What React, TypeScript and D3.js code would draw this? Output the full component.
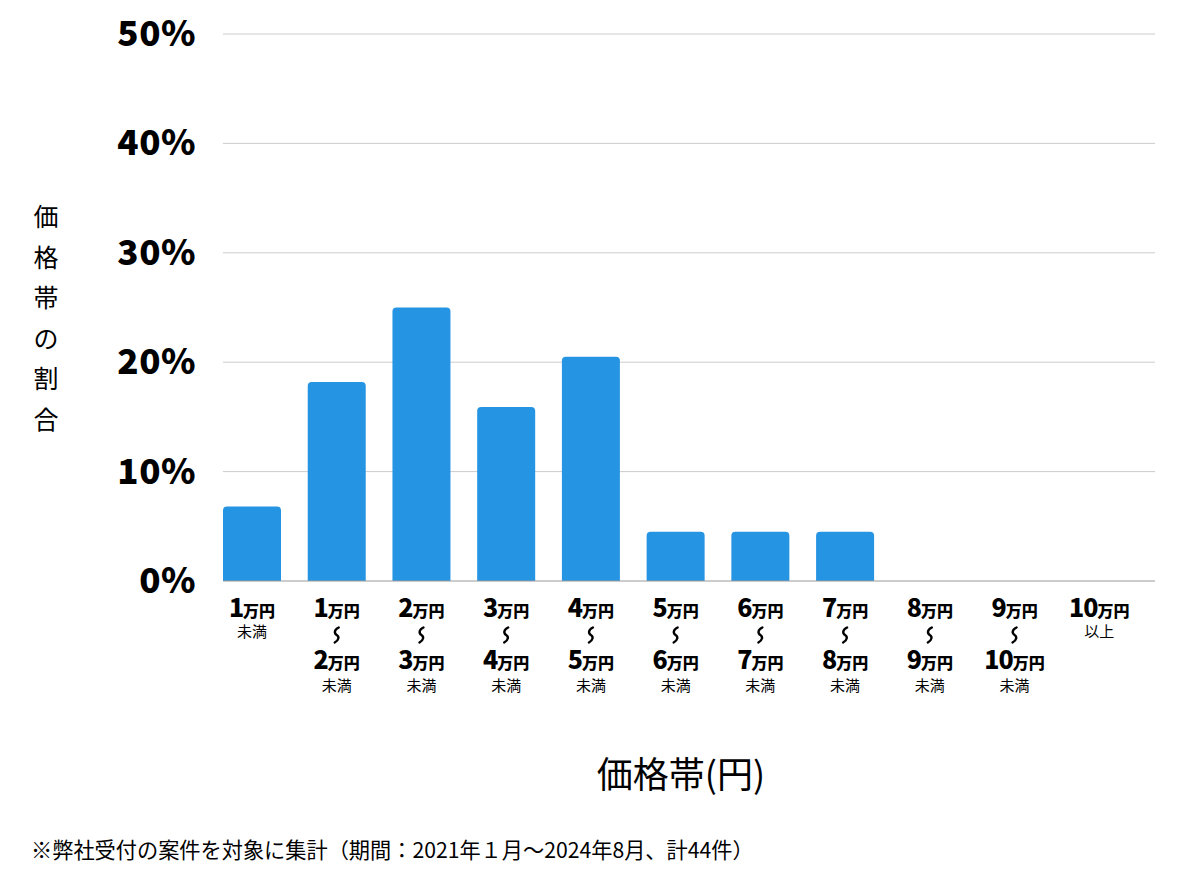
import React from "react";
import * as d3 from "d3";

const categories = ["1-", "1-2", "2-3", "3-4", "4-5", "5-6", "6-7", "7-8", "8-9", "9-10", "10+"];
const values = [6.8, 18.2, 25.0, 15.9, 20.5, 4.5, 4.5, 4.5, 0, 0, 0];
const lowLabels = ["1", "1", "2", "3", "4", "5", "6", "7", "8", "9", "10"];
const highLabels = ["", "2", "3", "4", "5", "6", "7", "8", "9", "10", ""];
const suffixLabels = ["未満", "未満", "未満", "未満", "未満", "未満", "未満", "未満", "未満", "未満", "以上"];
const yTicks = [0, 10, 20, 30, 40, 50];

const W = 1200, H = 874;
const left = 223, right = 1155, top = 34, bottom = 581;
const FONT = "'Noto Sans CJK JP', 'Noto Sans', sans-serif";

function roundedTopBar(x: number, y: number, w: number, h: number, r: number) {
  if (h <= 0) return "";
  const rr = Math.min(r, h, w / 2);
  return `M${x},${y + h}V${y + rr}Q${x},${y} ${x + rr},${y}H${x + w - rr}Q${x + w},${y} ${x + w},${y + rr}V${y + h}Z`;
}

function Amount({ x, y, num }: { x: number; y: number; num: string }) {
  return (
    <text x={x} y={y} textAnchor="middle" fontFamily={FONT} fontWeight={900} fill="#000">
      <tspan fontSize={25} letterSpacing={-1}>{num}</tspan>
      <tspan fontSize={16}>万円</tspan>
    </text>
  );
}

function Wave({ cx, cy }: { cx: number; cy: number }) {
  const d = `M${cx + 2},${cy - 7.5} C${cx - 3},${cy - 5} ${cx - 2.5},${cy - 1.5} ${cx},${cy} S${cx + 2.5},${cy + 5} ${cx - 2},${cy + 7.5}`;
  return <path d={d} fill="none" stroke="#000" strokeWidth={2.4} strokeLinecap="round" />;
}

export default function App() {
  const x = d3.scaleBand<string>().domain(categories).range([left, right]).paddingInner(0).paddingOuter(0);
  const y = d3.scaleLinear().domain([0, 50]).range([bottom, top]);
  const barW = 58;
  return (
    <svg width={W} height={H} style={{ position: "absolute", left: 0, top: 0, background: "#fff" }}>
      {yTicks.map((t) => (
        <g key={t}>
          {t > 0 && <line x1={left} x2={right} y1={y(t)} y2={y(t)} stroke="#cccccc" strokeWidth={1} />}
          <text x={196} y={y(t) + 12} textAnchor="end" fontFamily={FONT} fontWeight={900} fontSize={35} letterSpacing={0.5} fill="#000">
            {t}%
          </text>
        </g>
      ))}
      {categories.map((c, i) => {
        const bx = x(c)!;
        const by = y(values[i]);
        return <path key={c} d={roundedTopBar(bx, by, barW, bottom - by, 4)} fill="#2594e3" />;
      })}
      <line x1={left} x2={right} y1={bottom} y2={bottom} stroke="#999" strokeWidth={1.2} />
      {categories.map((c, i) => {
        const cx = x(c)! + barW / 2;
        const single = highLabels[i] === "";
        return (
          <g key={"l" + c}>
            <Amount x={cx} y={617} num={lowLabels[i]} />
            {single ? (
              <text x={cx} y={637} textAnchor="middle" fontFamily={FONT} fontSize={15} fill="#000">
                {suffixLabels[i]}
              </text>
            ) : (
              <>
                <Wave cx={cx} cy={635} />
                <Amount x={cx} y={669} num={highLabels[i]} />
                <text x={cx} y={691} textAnchor="middle" fontFamily={FONT} fontSize={15} fill="#000">
                  {suffixLabels[i]}
                </text>
              </>
            )}
          </g>
        );
      })}
      {"価格帯の割合".split("").map((ch, i) => (
        <text key={i} x={46} y={226 + i * 40.5} textAnchor="middle" fontFamily={FONT} fontSize={25} fill="#000">
          {ch}
        </text>
      ))}
      <text x={681} y={788} textAnchor="middle" fontFamily={FONT} fontSize={36} fill="#000">
        価格帯(円)
      </text>
      <text x={31} y={858} fontFamily={FONT} fontSize={21.2} fill="#000">
        ※弊社受付の案件を対象に集計（期間：2021年１月～2024年8月、計44件）
      </text>
    </svg>
  );
}
